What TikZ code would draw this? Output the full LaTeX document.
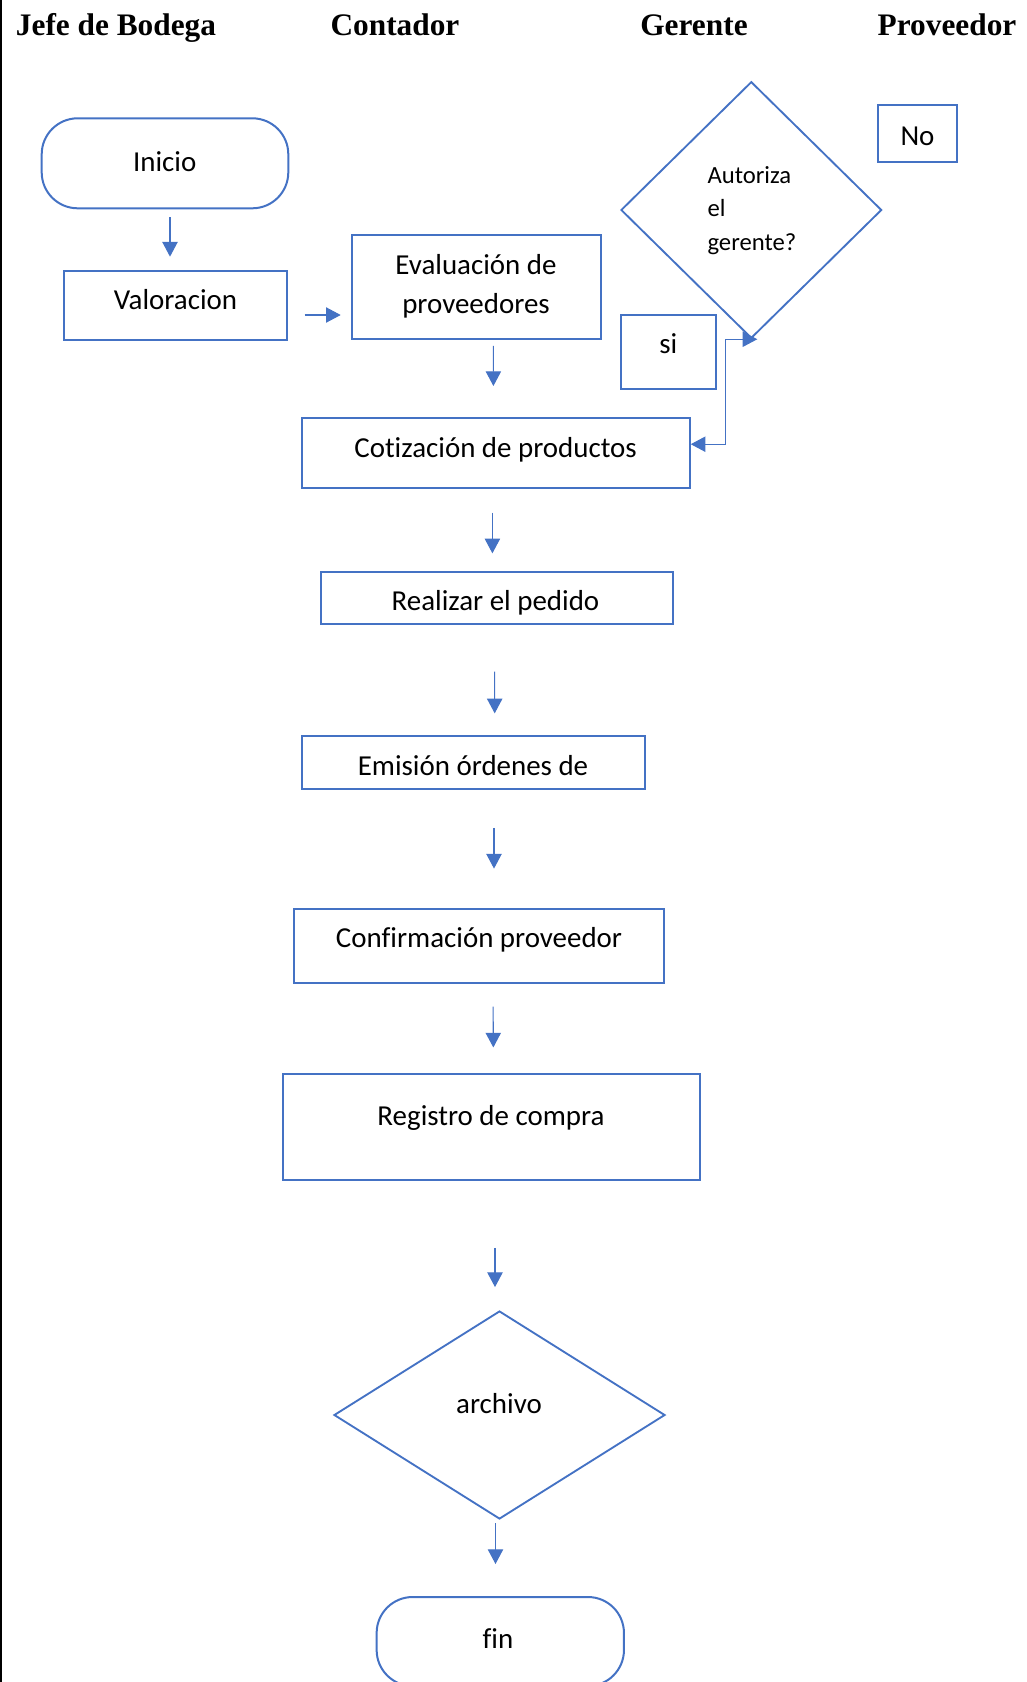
\documentclass[tikz,border=0pt]{standalone}
\usepackage{fontspec}
\setmainfont{Carlito}[Ligatures=NoCommon]
\newfontfamily\headfont{Liberation Serif}
\usetikzlibrary{arrows.meta, positioning, shapes.geometric}

\definecolor{flowblue}{HTML}{4472C4}
\def\px{0.75pt}

\begin{document}
\begin{tikzpicture}[x=\px, y=-\px]
\tikzstyle{flowbox}=[rectangle, draw=flowblue, line width=1.5pt, inner sep=0pt]
\tikzstyle{endbox}=[flowbox, rounded corners=27pt]
\tikzstyle{decision}=[diamond, draw=flowblue, line width=1.4pt, inner sep=0pt]
\tikzstyle{lbl}=[font=\fontsize{21.7}{29.7}\selectfont, inner sep=0pt, anchor=base, align=center]
\tikzstyle{head}=[font=\headfont\bfseries\fontsize{23.5}{28}\selectfont, inner sep=0pt, anchor=base]
\tikzstyle{arrow}=[draw=flowblue, line width=0.8pt, -{Triangle[length=11pt, width=11.5pt]}]
\tikzstyle{link}=[draw=flowblue, line width=0.8pt, {Triangle[length=11pt, width=11.5pt]}-{Triangle[length=11pt, width=11.5pt]}]

% Fix the page size
\useasboundingbox (0,0) rectangle (1026,1682);

% Left border
\draw[black, line width=1.5pt] (1,0) -- (1,1682);

% Lane titles
\node[head] (lane-jefe) at (116,35.7) {Jefe de Bodega};
\node[head] (lane-contador) at (395,35.7) {Contador};
\node[head] (lane-gerente) at (694,35.7) {Gerente};
\node[head] (lane-proveedor) at (947,35.7) {Proveedor};

% Draw the steps
\node[endbox, minimum width=246.6*\px, minimum height=90*\px] (inicio) at (165,163.3) {};
\node[flowbox, minimum width=223.3*\px, minimum height=69.3*\px] (valoracion) at (175.7,305.3) {};
\node[flowbox, minimum width=249*\px, minimum height=104.3*\px] (evaluacion) at (476.2,287.2) {};
\node[flowbox, minimum width=387.5*\px, minimum height=69.6*\px] (cotizacion) at (496,453.2) {};
\node[decision, minimum width=260.7*\px, minimum height=256.6*\px] (autoriza) at (751.3,210) {};
\node[flowbox, minimum width=78.4*\px, minimum height=57.3*\px] (no) at (917.5,133.7) {};
\node[flowbox, minimum width=95*\px, minimum height=74.3*\px] (si) at (668.5,352.2) {};
\node[flowbox, minimum width=352*\px, minimum height=52.5*\px] (pedido) at (496.5,597.8) {};
\node[flowbox, minimum width=343*\px, minimum height=52.5*\px] (emision) at (473.5,762.6) {};
\node[flowbox, minimum width=370*\px, minimum height=74*\px] (confirmacion) at (479,945.6) {};
\node[flowbox, minimum width=417*\px, minimum height=105.5*\px] (registro) at (491.5,1127.2) {};
\node[decision, minimum width=331*\px, minimum height=208*\px] (archivo) at (499.5,1415) {};
\node[endbox, minimum width=247.3*\px, minimum height=89*\px] (fin) at (500.3,1641.5) {};

% Texts of the steps (base = last line)
\node[lbl] (inicio-t) at (164.7,171) {Inicio};
\node[lbl] (valoracion-t) at (175.5,309.3) {Valoracion};
\node[lbl] (evaluacion-t) at (476,313.6) {Evaluación de\\proveedores};
\node[lbl] (cotizacion-t) at (495.6,457.8) {Cotización de productos};
\node[lbl, font=\fontsize{18.5}{25}\selectfont, align=left, anchor=base west] (autoriza-t) at (707.3,250) {Autoriza\\el\\gerente?};
\node[lbl] (no-t) at (917.5,145) {No};
\node[lbl] (si-t) at (668.3,353.3) {si};
\node[lbl] (pedido-t) at (495.5,610) {Realizar el pedido};
\node[lbl] (emision-t) at (473,775.5) {Emisión órdenes de};
\node[lbl] (confirmacion-t) at (479,947) {Confirmación proveedor};
\node[lbl] (registro-t) at (491,1125) {Registro de compra};
\node[lbl] (archivo-t) at (499,1413) {archivo};
\node[lbl] (fin-t) at (498,1648) {fin};

% Connect the steps
\draw[arrow, shorten <=7.7*\px, shorten >=13*\px] ([xshift=5*\px]inicio.south) -- ([xshift=-5.7*\px]valoracion.north);
\draw[arrow, shorten <=16.3*\px, shorten >=10*\px] ([yshift=-9.7*\px]valoracion.east) -- ([yshift=-27.8*\px]evaluacion.west);
\foreach \src/\dst/\dxa/\dxb/\sa/\sb in {%
    evaluacion/cotizacion/17.2/-2.6/5.4/31.4,
    cotizacion/pedido/-3.6/-4.1/23.7/17.2,
    pedido/emision/-1.8/21.2/46.6/22,
    emision/confirmacion/20.5/15/38/39,
    confirmacion/registro/14/2/23/26,
    registro/archivo/3.5/-4.5/67/23,
    archivo/fin/-4/-4.8/3.5/32}
  \draw[arrow, shorten <=\sa*\px, shorten >=\sb*\px] ([xshift=\dxa*\px]\src.south) -- ([xshift=\dxb*\px]\dst.north);

% Answer of the manager back to the quotation
\draw[link] ([yshift=9*\px]cotizacion.east) -- ++(35,0) |- ([xshift=6*\px]autoriza.south);

\end{tikzpicture}
\end{document}
